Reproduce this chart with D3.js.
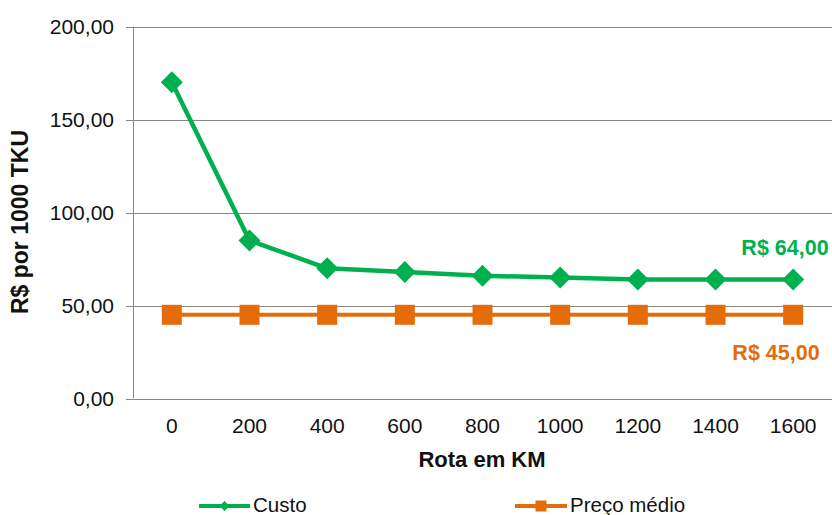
<!DOCTYPE html>
<html>
<head>
<meta charset="utf-8">
<script src="https://cdn.jsdelivr.net/npm/d3@7"></script>
<style>
  html, body { margin: 0; padding: 0; background: #fff; }
  svg { display: block; font-family: "Liberation Sans", Arial, sans-serif; }
</style>
</head>
<body>
<svg id="chart" width="832" height="515"></svg>
<script>
// Route distance categories (km)
const rotas = ["0", "200", "400", "600", "800", "1000", "1200", "1400", "1600"];
// Cost per 1000 TKU along each route length
const custo = [170, 85, 70, 68, 66, 65, 64, 64, 64];
// Average price per 1000 TKU
const precoMedio = [45, 45, 45, 45, 45, 45, 45, 45, 45];
// Value axis ticks
const yTicks = [0, 50, 100, 150, 200];

const series = [
  { name: "Custo", values: custo, color: "#00B050", marker: "diamond" },
  { name: "Preço médio", values: precoMedio, color: "#E46C0A", marker: "square" }
];

const svg = d3.select("#chart");
const margin = { left: 133, right: 0, top: 26.5, bottom: 116.5 };
const W = 832, H = 515;

const x = d3.scaleBand().domain(rotas).range([margin.left, W - margin.right]);
const y = d3.scaleLinear().domain([0, 200]).range([H - margin.bottom, margin.top]);

const locale = d3.formatLocale({ decimal: ",", thousands: ".", grouping: [3], currency: ["R$ ", ""] });
const fmt = locale.format(".2f");

// Horizontal gridlines
svg.append("g")
  .selectAll("line")
  .data(yTicks)
  .join("line")
  .attr("x1", margin.left - 7)
  .attr("x2", W)
  .attr("y1", d => Math.round(y(d)) + 0.5)
  .attr("y2", d => Math.round(y(d)) + 0.5)
  .attr("stroke", "#888")
  .attr("stroke-width", 1);

// Value axis line
svg.append("line")
  .attr("x1", margin.left + 0.5).attr("x2", margin.left + 0.5)
  .attr("y1", y(200)).attr("y2", y(0))
  .attr("stroke", "#888");

// Value axis labels
svg.append("g")
  .selectAll("text")
  .data(yTicks)
  .join("text")
  .attr("x", 114)
  .attr("y", d => y(d))
  .attr("dy", "0.36em")
  .attr("text-anchor", "end")
  .attr("font-size", 21)
  .attr("fill", "#111")
  .text(d => fmt(d));

// Category labels
svg.append("g")
  .selectAll("text")
  .data(rotas)
  .join("text")
  .attr("x", d => x(d) + x.bandwidth() / 2)
  .attr("y", 433)
  .attr("text-anchor", "middle")
  .attr("font-size", 21)
  .attr("fill", "#111")
  .text(d => d);

// Axis titles
svg.append("text")
  .attr("x", 482).attr("y", 467)
  .attr("text-anchor", "middle")
  .attr("font-size", 22).attr("font-weight", "bold")
  .attr("fill", "#111")
  .text("Rota em KM");

svg.append("text")
  .attr("transform", "translate(28,222) rotate(-90)")
  .attr("text-anchor", "middle")
  .attr("font-size", 23).attr("font-weight", "bold")
  .attr("fill", "#111")
  .text("R$ por 1000 TKU");

const line = d3.line()
  .x((d, i) => x(rotas[i]) + x.bandwidth() / 2)
  .y(d => y(d));

function drawMarker(g, type, cx, cy, size, color) {
  if (type === "diamond") {
    g.append("path")
      .attr("d", `M${cx},${cy - size}L${cx + size},${cy}L${cx},${cy + size}L${cx - size},${cy}Z`)
      .attr("fill", color);
  } else {
    g.append("rect")
      .attr("x", cx - size).attr("y", cy - size)
      .attr("width", size * 2).attr("height", size * 2)
      .attr("fill", color);
  }
}

// Series lines and markers
series.forEach(s => {
  const g = svg.append("g");
  g.append("path")
    .datum(s.values)
    .attr("d", line)
    .attr("fill", "none")
    .attr("stroke", s.color)
    .attr("stroke-width", s.marker === "diamond" ? 4.5 : 4)
    .attr("stroke-linejoin", "round");
  s.values.forEach((v, i) => {
    drawMarker(g, s.marker, x(rotas[i]) + x.bandwidth() / 2, y(v),
      s.marker === "diamond" ? 11 : 10, s.color);
  });
});

// End-value annotations
const last = rotas.length - 1;
svg.append("text")
  .attr("x", 785).attr("y", y(custo[last]) - 24)
  .attr("text-anchor", "middle")
  .attr("font-size", 21.5).attr("font-weight", "bold")
  .attr("fill", "#00B050")
  .text(locale.format("$.2f")(custo[last]));

svg.append("text")
  .attr("x", 776).attr("y", y(precoMedio[last]) + 45)
  .attr("text-anchor", "middle")
  .attr("font-size", 21.5).attr("font-weight", "bold")
  .attr("fill", "#E46C0A")
  .text(locale.format("$.2f")(precoMedio[last]));

// Legend
const legend = [
  { s: series[0], x1: 199, x2: 250, tx: 253 },
  { s: series[1], x1: 515, x2: 567, tx: 570 }
];
legend.forEach(l => {
  const g = svg.append("g");
  const ly = 506;
  g.append("line")
    .attr("x1", l.x1).attr("x2", l.x2)
    .attr("y1", ly).attr("y2", ly)
    .attr("stroke", l.s.color).attr("stroke-width", 4);
  drawMarker(g, l.s.marker, (l.x1 + l.x2) / 2, ly, l.s.marker === "diamond" ? 5 : 5.5, l.s.color);
  g.append("text")
    .attr("x", l.tx).attr("y", ly - 1)
    .attr("dy", "0.35em")
    .attr("font-size", 20.5)
    .attr("fill", "#111")
    .text(l.s.name);
});
</script>
</body>
</html>
